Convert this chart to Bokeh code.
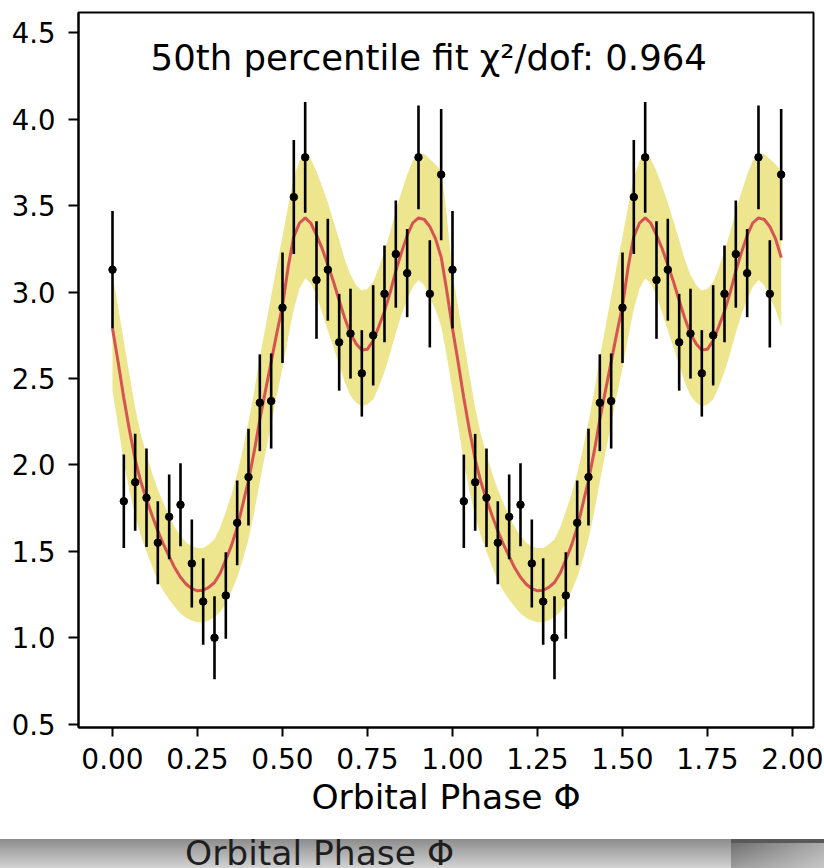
from bokeh.plotting import figure
from bokeh.models import Range1d, FixedTicker, PrintfTickFormatter, Label, Div
from bokeh.layouts import column
from bokeh.embed import file_html
from bokeh.resources import INLINE

# ---------------- data (one orbital cycle, plotted twice: phase and phase + 1) ----------------
phase = [0.0, 0.0333, 0.0667, 0.1, 0.1333, 0.1667, 0.2, 0.2333, 0.2667, 0.3,
         0.3333, 0.3667, 0.4, 0.4333, 0.4667, 0.5, 0.5333, 0.5667, 0.6, 0.6333,
         0.6667, 0.7, 0.7333, 0.7667, 0.8, 0.8333, 0.8667, 0.9, 0.9333, 0.9667]

flux = [3.13, 1.79, 1.90, 1.81, 1.55, 1.70, 1.77, 1.43, 1.21, 1.00,
        1.245, 1.665, 1.93, 2.36, 2.37, 2.91, 3.55, 3.78, 3.07, 3.13,
        2.71, 2.76, 2.53, 2.75, 2.99, 3.22, 3.11, 3.78, 2.99, 3.68]

flux_err = [0.34, 0.27, 0.28, 0.285, 0.24, 0.245, 0.24, 0.255, 0.25, 0.24,
            0.25, 0.245, 0.28, 0.28, 0.275, 0.32, 0.33, 0.32, 0.34, 0.295,
            0.28, 0.26, 0.25, 0.29, 0.28, 0.31, 0.255, 0.30, 0.31, 0.38]

model_phase = [0.000, 0.017, 0.033, 0.050, 0.067, 0.083, 0.100, 0.117, 0.133, 0.150,
               0.167, 0.183, 0.200, 0.217, 0.233, 0.250, 0.267, 0.283, 0.300, 0.317,
               0.333, 0.350, 0.367, 0.383, 0.400, 0.417, 0.433, 0.450, 0.467, 0.483,
               0.500, 0.517, 0.533, 0.550, 0.567, 0.583, 0.600, 0.617, 0.633, 0.650,
               0.667, 0.683, 0.700, 0.717, 0.733, 0.750, 0.767, 0.783, 0.800, 0.817,
               0.833, 0.850, 0.867, 0.883, 0.900, 0.917, 0.933, 0.950, 0.967, 0.983]
# 50th percentile model
model_median = [2.79, 2.59, 2.39, 2.20, 2.03, 1.905, 1.80, 1.705, 1.62, 1.54,
                1.47, 1.405, 1.35, 1.31, 1.285, 1.272, 1.275, 1.292, 1.32, 1.375,
                1.45, 1.535, 1.64, 1.77, 1.91, 2.08, 2.26, 2.43, 2.60, 2.76,
                2.92, 3.15, 3.32, 3.40, 3.43, 3.40, 3.33, 3.25, 3.16, 3.06,
                2.95, 2.85, 2.76, 2.70, 2.665, 2.67, 2.72, 2.80, 2.89, 3.00,
                3.12, 3.23, 3.33, 3.40, 3.43, 3.42, 3.38, 3.31, 3.20, 3.01]
# upper / lower envelope of the posterior model curves
model_upper = [3.10, 2.91, 2.72, 2.52, 2.33, 2.18, 2.06, 1.95, 1.86, 1.78,
               1.70, 1.64, 1.59, 1.55, 1.53, 1.52, 1.52, 1.54, 1.57, 1.64,
               1.73, 1.83, 1.95, 2.09, 2.25, 2.43, 2.62, 2.80, 2.98, 3.15,
               3.32, 3.50, 3.66, 3.76, 3.80, 3.77, 3.70, 3.61, 3.52, 3.41,
               3.30, 3.19, 3.10, 3.04, 3.01, 3.02, 3.06, 3.14, 3.24, 3.35,
               3.47, 3.58, 3.68, 3.76, 3.80, 3.80, 3.77, 3.74, 3.70, 3.45]
model_lower = [2.43, 2.22, 2.02, 1.85, 1.70, 1.59, 1.50, 1.41, 1.33, 1.27,
               1.22, 1.18, 1.14, 1.115, 1.10, 1.09, 1.09, 1.10, 1.12, 1.15,
               1.20, 1.27, 1.35, 1.45, 1.57, 1.73, 1.90, 2.07, 2.24, 2.40,
               2.56, 2.74, 2.90, 3.02, 3.08, 3.05, 2.98, 2.88, 2.78, 2.68,
               2.58, 2.48, 2.40, 2.36, 2.34, 2.35, 2.38, 2.45, 2.54, 2.65,
               2.76, 2.87, 2.96, 3.03, 3.07, 3.04, 2.97, 2.90, 2.80, 2.63]

x_ticks = [0.0, 0.25, 0.5, 0.75, 1.0, 1.25, 1.5, 1.75, 2.0]
y_ticks = [0.5, 1.0, 1.5, 2.0, 2.5, 3.0, 3.5, 4.0, 4.5]
title_text = "50th percentile fit \u03c7\u00b2/dof: 0.964"
x_label = "Orbital Phase \u03a6"

# two cycles of the data
xs = phase + [ph + 1.0 for ph in phase]
ys = flux + flux
es = flux_err + flux_err
# two cycles of the model (curves stop at the last observed phase)
mx = model_phase + [ph + 1.0 for ph in model_phase[:-1]]
med2 = model_median + model_median[:-1]
up2 = model_upper + model_upper[:-1]
lo2 = model_lower + model_lower[:-1]

FONT = "DejaVu Sans"

p = figure(width=824, height=839,
           x_range=Range1d(-0.1, 2.0618), y_range=Range1d(0.481, 4.618),
           output_backend="svg", toolbar_location=None,
           min_border_left=78, min_border_right=11, min_border_top=12, min_border_bottom=112)
p.xgrid.visible = False
p.ygrid.visible = False
p.outline_line_color = "black"
p.outline_line_width = 2
p.outline_line_alpha = 1.0
p.background_fill_color = "white"
p.border_fill_color = "white"

# posterior band
p.varea(x=mx, y1=lo2, y2=up2, fill_color="#eee58f", fill_alpha=1.0)
# median model
p.line(x=mx, y=med2, line_color="#d65353", line_width=3)
# error bars
p.segment(x0=xs, y0=[v - e for v, e in zip(ys, es)], x1=xs, y1=[v + e for v, e in zip(ys, es)],
          line_color="black", line_width=2.6)
p.scatter(x=xs, y=ys, size=7.5, color="black")

p.add_layout(Label(x=0.112, y=4.358, text=title_text, text_font=FONT, text_font_size="35.5px",
                   text_baseline="alphabetic", text_align="left", text_color="black"))

for ax in (p.xaxis[0], p.yaxis[0]):
    ax.axis_line_color = "black"
    ax.axis_line_width = 2
    ax.major_tick_line_color = "black"
    ax.major_tick_line_width = 2
    ax.major_tick_in = 0
    ax.minor_tick_line_color = None
    ax.major_label_text_font = FONT
    ax.major_label_text_color = "black"

p.xaxis.ticker = FixedTicker(ticks=x_ticks)
p.xaxis.formatter = PrintfTickFormatter(format="%.2f")
p.xaxis.major_tick_out = 9
p.xaxis.major_label_text_font_size = "28px"
p.xaxis.major_label_standoff = 11
p.xaxis.axis_label = x_label
p.xaxis.axis_label_text_font = FONT
p.xaxis.axis_label_text_font_size = "34.5px"
p.xaxis.axis_label_text_font_style = "normal"
p.xaxis.axis_label_text_color = "black"
p.xaxis.axis_label_standoff = 5

p.yaxis.ticker = FixedTicker(ticks=y_ticks)
p.yaxis.formatter = PrintfTickFormatter(format="%.1f")
p.yaxis.major_tick_out = 10
p.yaxis.major_label_text_font_size = "27.5px"
p.yaxis.major_label_standoff = 13

# ---------------- the grey strip below the chart (edge of a screenshot) ----------------
strip_html = (
    '<div style="position:relative;width:824px;height:29px;overflow:hidden;'
    'background:linear-gradient(to bottom,#8c8c8c,#d3d3d3);">'
    '<div style="position:absolute;left:731px;top:0;width:93px;height:29px;'
    'background:linear-gradient(to bottom,rgba(255,255,255,0),rgba(255,255,255,0.35)),'
    'linear-gradient(to right,#686868,#a8a8a8);"></div>'
    '<div style="position:absolute;left:731px;top:0;width:93px;height:4px;background:#595959;"></div>'
    '<span style="position:absolute;left:185px;top:-6px;font-family:\'DejaVu Sans\';'
    'font-size:34.5px;line-height:normal;color:#1e1e1e;white-space:nowrap;">'
    + x_label + '</span></div>'
)
strip = Div(text=strip_html, width=824, height=29, margin=(0, 0, 0, 0))

layout = column(p, strip, spacing=0)
open("out.html", "w").write(file_html(layout, INLINE))
